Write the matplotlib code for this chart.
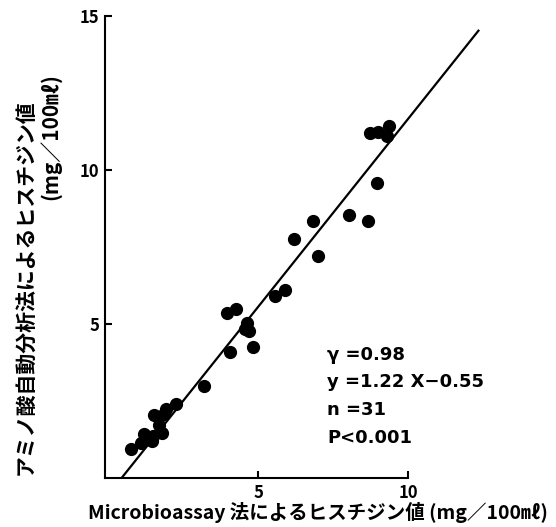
import numpy as np
import matplotlib.pyplot as plt

plt.rcParams['font.family'] = ['Noto Sans CJK JP', 'DejaVu Sans']

# Microbioassay (x) vs amino acid analyser (y), mg/100ml
micro = [0.76, 1.10, 1.20, 1.47, 1.51, 1.52, 1.69, 1.80, 1.86, 1.93,
         2.27, 3.21, 3.96, 4.27, 4.07, 4.64, 4.57, 4.71, 4.84, 5.58,
         5.90, 6.21, 6.82, 7.01, 8.04, 8.67, 8.98, 8.73, 9.00, 9.29, 9.38]
amino = [0.94, 1.12, 1.44, 1.20, 1.37, 2.03, 1.71, 1.46, 2.08, 2.24,
         2.41, 2.98, 5.36, 5.48, 4.08, 5.04, 4.83, 4.77, 4.24, 5.92,
         6.09, 7.75, 8.34, 7.19, 8.55, 8.34, 9.58, 11.21, 11.24, 11.11, 11.44]

slope, intercept = 1.22, -0.55
line_x = np.array([0.45, 12.35])

stats = ["γ =0.98", "y =1.22 X−0.55", "n =31", "P<0.001"]
ylabel1 = "アミノ酸自動分析法によるヒスチジン値"
ylabel2 = "(mg／100㎖)"
xlabel = "Microbioassay 法によるヒスチジン値 (mg／100㎖)"

fig = plt.figure(figsize=(5.56, 5.27), dpi=100)
ax = fig.add_axes([0.189, 0.093, 0.685, 0.877])

ax.plot(micro, amino, "o", color="black", markersize=8.5)
ax.plot(line_x, slope * line_x + intercept, color="black", linewidth=1.6)

ax.set_xlim(-0.1, 12.6)
ax.set_ylim(0, 15)
ax.spines["top"].set_visible(False)
ax.spines["right"].set_visible(False)
ax.spines["bottom"].set_bounds(-0.1, 10)
for s in ("left", "bottom"):
    ax.spines[s].set_linewidth(1.5)

ax.set_xticks([5, 10])
ax.set_xticklabels(["5", "10"])
ax.set_yticks([5, 10, 15])
ax.set_yticklabels(["5", "10", "15"])
ax.tick_params(direction="in", length=5, width=1.5, labelsize=12, pad=4)
for lab in ax.get_xticklabels() + ax.get_yticklabels():
    lab.set_fontweight("bold")

for i, s in enumerate(stats):
    ax.text(7.3, 4.0 - i * 0.9, s, fontsize=13, fontweight="bold",
            family="DejaVu Sans", va="center", ha="left")

fig.text(0.572, 0.028, xlabel, ha="center", va="center",
         fontsize=14, fontweight="bold")
fig.text(0.045, 0.455, ylabel1, rotation=90, ha="center", va="center",
         fontsize=15, fontweight="bold")
fig.text(0.09, 0.74, ylabel2, rotation=90, ha="center", va="center",
         fontsize=15, fontweight="bold")

fig.savefig("out.png", dpi=100)
